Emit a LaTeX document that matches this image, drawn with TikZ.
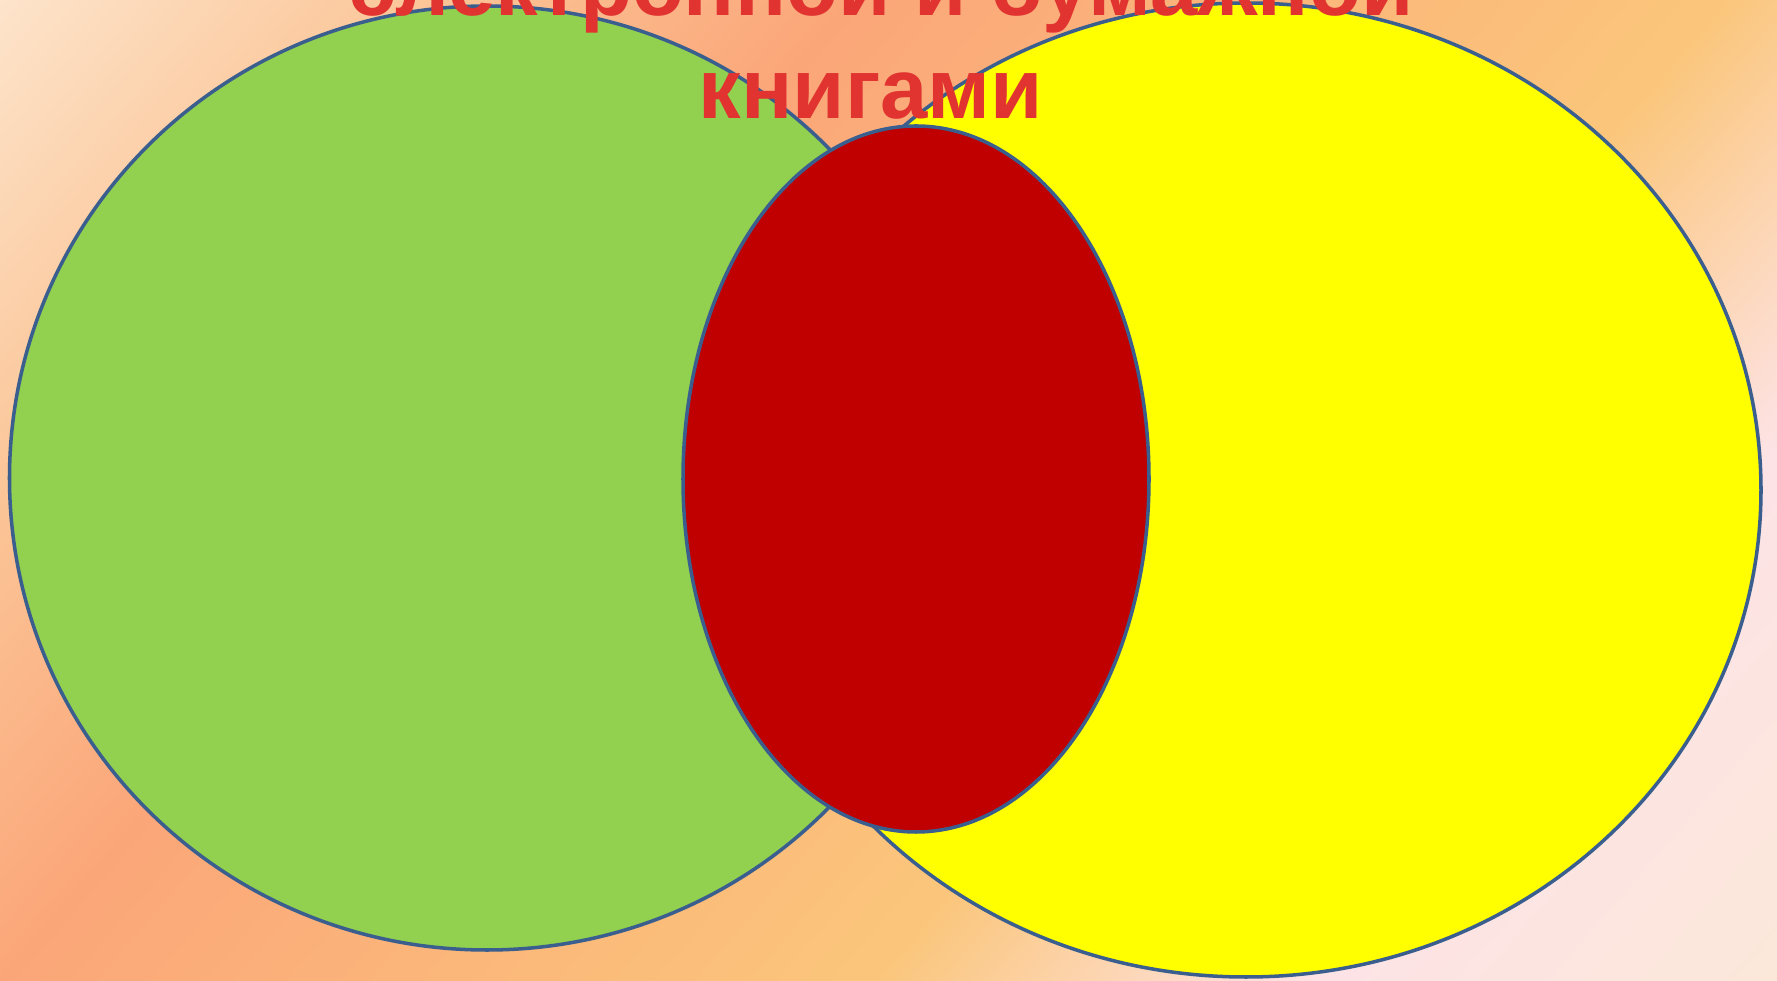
\documentclass[tikz,border=0pt]{standalone}
\usepackage{fontspec}
\setmainfont{Liberation Sans}
\usetikzlibrary{positioning}
\definecolor{bgA}{HTML}{FDE4CB}
\definecolor{bgB}{HTML}{FBC597}
\definecolor{bgC}{HTML}{FBA679}
\definecolor{bgD}{HTML}{FBC67B}
\definecolor{bgE}{HTML}{FDE3E6}
\definecolor{bgF}{HTML}{FBE8D9}
\definecolor{vennline}{HTML}{3A5F8E}
\definecolor{venngreen}{HTML}{92D050}
\definecolor{vennyellow}{HTML}{FFFF00}
\definecolor{vennred}{HTML}{C00000}
\definecolor{titlered}{HTML}{E1332F}
\pgfdeclarehorizontalshading{sunset}{100bp}{color(0bp)=(bgA); color(25.5bp)=(bgA); color(33.6bp)=(bgB); color(41.4bp)=(bgC); color(57.6bp)=(bgD); color(65.9bp)=(bgE); color(74.5bp)=(bgF); color(100bp)=(bgF)}
\tikzstyle{venn} = [draw=vennline, line width=1pt]
\tikzstyle{heading} = [text=titlered, font=\fontsize{24.2}{29}\selectfont\bfseries, inner sep=0pt, anchor=base]

\begin{document}
\begin{tikzpicture}
	\useasboundingbox (0,0) rectangle (17.77,9.81);
	% background
	\begin{scope}
		\clip (0,0) rectangle (17.77,9.81);
		\shade[shading=sunset, shading angle=-41] (-1.265,-5.245) rectangle (19.035,15.055);
	\end{scope}
	
	% sets
	\draw[venn, fill=venngreen] (4.87,5.03) ellipse (4.775 and 4.72);
	\draw[venn, fill=vennyellow] (12.46,4.91) ellipse (5.15 and 4.87);
	\draw[venn, fill=vennred] (9.16,5.02) ellipse (2.33 and 3.53);
	
	% title
	\node[heading] (line1) at (8.82,9.65) {электронной и бумажной};
	\node[heading] (line2) at ([xshift=-0.11cm,yshift=-1.03cm]line1.base) {книгами};
\end{tikzpicture}
\end{document}
